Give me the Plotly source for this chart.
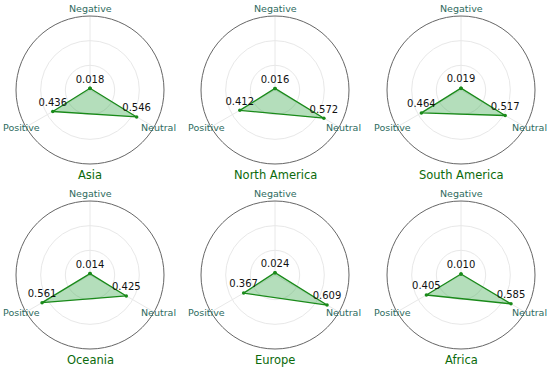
import plotly.graph_objects as go

regions = ["Asia", "North America", "South America", "Oceania", "Europe", "Africa"]
categories = ["Negative", "Positive", "Neutral"]
negative = [0.018, 0.016, 0.019, 0.014, 0.024, 0.010]
positive = [0.436, 0.412, 0.464, 0.561, 0.367, 0.405]
neutral = [0.546, 0.572, 0.517, 0.425, 0.609, 0.585]

W, H = 550, 370
centers_x = [90, 275, 461]
centers_y = [90, 275]
R = 74

LINE = "#1a8a1a"
FILL = "rgba(40,160,60,0.35)"
CAT_COLOR = "#2E6B5E"
TITLE_COLOR = "#0B6A0B"

fig = go.Figure()
annotations = []
for i, reg in enumerate(regions):
    row, col = divmod(i, 3)
    cx, cy = centers_x[col], centers_y[row]
    pid = "polar" if i == 0 else f"polar{i+1}"
    vals = [negative[i], positive[i], neutral[i]]
    fig.add_trace(go.Scatterpolar(
        r=vals + [vals[0]],
        theta=categories + [categories[0]],
        mode="lines+markers+text",
        text=[f"{v:.3f}" for v in vals] + [""],
        textposition="top center",
        textfont=dict(family="DejaVu Sans", size=10, color="#111"),
        line=dict(color=LINE, width=1.3),
        marker=dict(color=LINE, size=3.5),
        fill="toself",
        fillcolor=FILL,
        subplot=pid,
        showlegend=False,
        cliponaxis=False,
        hoverinfo="skip",
    ))
    fig.update_layout({pid: dict(
        domain=dict(x=[(cx - R) / W, (cx + R) / W], y=[1 - (cy + R) / H, 1 - (cy - R) / H]),
        bgcolor="white",
        radialaxis=dict(range=[0, 0.75], tickvals=[0.25, 0.5, 0.75], showticklabels=False,
                        showline=False, ticks="", gridcolor="#e8e8e8", gridwidth=1),
        angularaxis=dict(type="category", categoryarray=categories, rotation=90,
                         direction="counterclockwise", showticklabels=False, ticks="",
                         showline=True, linecolor="#666666", linewidth=1,
                         gridcolor="#e8e8e8", gridwidth=1),
    )})
    annotations.append(dict(x=cx / W, y=1 - (cy + 85) / H, xref="paper", yref="paper",
                            text=reg, showarrow=False, xanchor="center", yanchor="middle",
                            font=dict(family="DejaVu Sans", size=11.5, color=TITLE_COLOR)))
    for lab, dx, dy in [("Negative", 0, -82), ("Positive", -69, 37), ("Neutral", 68, 37)]:
        annotations.append(dict(x=(cx + dx) / W, y=1 - (cy + dy) / H, xref="paper", yref="paper",
                                text=lab, showarrow=False, xanchor="center", yanchor="middle",
                                font=dict(family="DejaVu Sans", size=9.5, color=CAT_COLOR)))

fig.update_layout(width=W, height=H, margin=dict(l=0, r=0, t=0, b=0),
                  paper_bgcolor="white", annotations=annotations,
                  font=dict(family="DejaVu Sans"))
fig.write_html("out.html", config={"displayModeBar": False},
               post_script="document.body.style.margin='0';document.body.style.overflow='hidden';")
